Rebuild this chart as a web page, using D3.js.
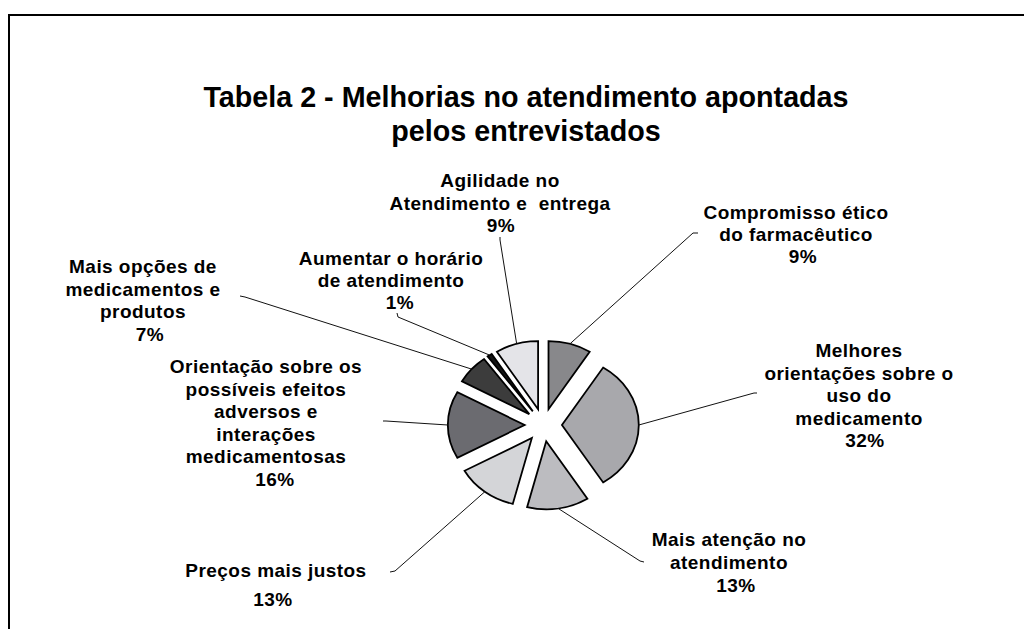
<!DOCTYPE html>
<html>
<head>
<meta charset="utf-8">
<script src="https://cdn.jsdelivr.net/npm/d3@7/dist/d3.min.js"></script>
<style>
  html, body { margin: 0; padding: 0; background: #fff; }
  svg { display: block; }
  text { font-family: "Liberation Sans", Arial, sans-serif; font-weight: bold; fill: #000; white-space: pre; }
</style>
</head>
<body>
<svg id="chart" width="1024" height="629"></svg>
<script>
// ---------- DATA ----------
const titleLines = ["Tabela 2 - Melhorias no atendimento apontadas", "pelos entrevistados"];
const categories = [
  "Compromisso ético do farmacêutico",
  "Melhores orientações sobre o uso do medicamento",
  "Mais atenção no atendimento",
  "Preços mais justos",
  "Orientação sobre os possíveis efeitos adversos e interações medicamentosas",
  "Mais opções de medicamentos e produtos",
  "Aumentar o horário de atendimento",
  "Agilidade no Atendimento e  entrega"
];
const labelLines = [
  ["Compromisso ético", "do farmacêutico"],
  ["Melhores", "orientações sobre o", "uso do", "medicamento"],
  ["Mais atenção no", "atendimento"],
  ["Preços mais justos"],
  ["Orientação sobre os", "possíveis efeitos", "adversos e", "interações", "medicamentosas"],
  ["Mais opções de", "medicamentos e", "produtos"],
  ["Aumentar o horário", "de atendimento"],
  ["Agilidade no", "Atendimento e  entrega"]
];
const values = [9, 32, 13, 13, 16, 7, 1, 9];
const fills = ["#88888b", "#a8a8ac", "#bcbcc0", "#d4d5d8", "#6b6b70", "#3c3c3c", "#141414", "#e4e4e8"];

// ---------- LAYOUT (label placement, manual as in the original) ----------
const labelLayout = [
  { x: 796, y: 219, dy: 22, pctDy: 22, pctDx: 7,  tick: [698, 233, 693, 233] },
  { x: 859, y: 357, dy: 22.5, pctDy: 22.5, pctDx: 6, tick: [757, 393, 754, 393] },
  { x: 729, y: 546, dy: 23, pctDy: 23, pctDx: 7,  tick: [644, 562, 640, 561] },
  { x: 276, y: 577, dy: 29, pctDy: 29, pctDx: -3, tick: [390, 572, 395, 571] },
  { x: 266, y: 373, dy: 22.6, pctDy: 22.6, pctDx: 9, tick: [383, 421, 386, 421] },
  { x: 143, y: 273, dy: 22.7, pctDy: 22.7, pctDx: 7, tick: [240, 296, 245, 297] },
  { x: 391, y: 265, dy: 22, pctDy: 22, pctDx: 9,  tick: [397, 313, 398, 317] },
  { x: 500, y: 187, dy: 22.5, pctDy: 22.5, pctDx: 1, tick: [500, 237, 500, 240] }
];

const W = 1024, H = 629;
const cx = 543.3, cy = 425, r = 68, sx = 1.13, explode = 16.5;

const svg = d3.select("#chart");

// frame (clipped by the picture on right and bottom, as in the original)
svg.append("rect")
  .attr("x", 9).attr("y", 15)
  .attr("width", W + 20).attr("height", H + 20)
  .attr("fill", "none").attr("stroke", "#000").attr("stroke-width", 2);

// title
svg.append("text")
  .attr("x", 526).attr("y", 107)
  .attr("text-anchor", "middle")
  .style("font-size", "28.7px")
  .selectAll("tspan").data(titleLines).join("tspan")
  .attr("x", 526).attr("dy", (d, i) => i === 0 ? 0 : 34)
  .text(d => d);

// pie
const pie = d3.pie().sort(null).value(d => d);
const arcs = pie(values);
const arc = d3.arc().innerRadius(0).outerRadius(r);
const mid = a => (a.startAngle + a.endAngle) / 2;

const g = svg.append("g").attr("transform", `translate(${cx},${cy}) scale(${sx},1)`);
g.selectAll("path").data(arcs).join("path")
  .attr("transform", a => `translate(${Math.sin(mid(a)) * explode},${-Math.cos(mid(a)) * explode})`)
  .attr("d", arc)
  .attr("fill", (a, i) => fills[i])
  .attr("stroke", "#000")
  .attr("stroke-width", 1.8)
  .attr("stroke-linejoin", "miter")
  .attr("vector-effect", "non-scaling-stroke");

// leader lines: label tick -> outer arc at the slice's mid angle
const edgePoint = a => [
  cx + sx * Math.sin(mid(a)) * (r + explode),
  cy - Math.cos(mid(a)) * (r + explode)
];
const line = d3.line();
svg.append("g").selectAll("path").data(arcs).join("path")
  .attr("d", (a, i) => {
    const t = labelLayout[i].tick;
    return line([[t[0], t[1]], [t[2], t[3]], edgePoint(a)]);
  })
  .attr("fill", "none").attr("stroke", "#111").attr("stroke-width", 1);

// labels
const lab = svg.append("g").style("font-size", "19px").style("letter-spacing", "0.45px").attr("text-anchor", "middle");
arcs.forEach((a, i) => {
  const L = labelLayout[i];
  const t = lab.append("text").attr("x", L.x).attr("y", L.y);
  labelLines[i].forEach((s, j) => {
    t.append("tspan").attr("x", L.x).attr("dy", j === 0 ? 0 : L.dy).text(s);
  });
  t.append("tspan").attr("x", L.x + L.pctDx).attr("dy", labelLines[i].length ? L.pctDy : 0)
    .text(d3.format(".0f")(a.data) + "%");
});
</script>
</body>
</html>
